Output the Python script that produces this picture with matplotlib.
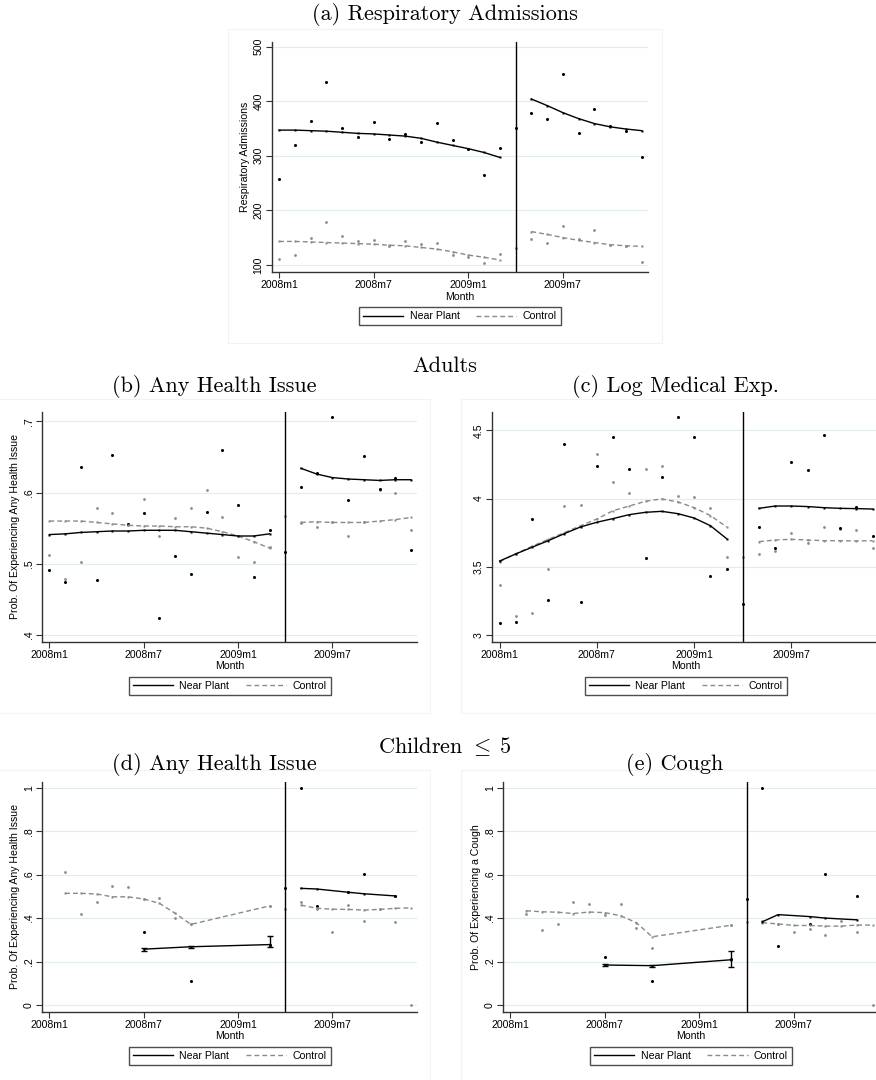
import numpy as np
import matplotlib.pyplot as plt
from matplotlib.lines import Line2D

plt.rcParams['mathtext.fontset'] = 'cm'

nan = np.nan

# month index 0 = 2008m1 ... 23 = 2009m12
months = list(range(24))
month_ticks = [0, 6, 12, 18]
month_labels = ['2008m1', '2008m7', '2009m1', '2009m7']
cutoff = 15  # 2009m4
pre_months = list(range(0, 15))
post_months = list(range(16, 24))

# (a) Respiratory Admissions
a_near = [257, 319, 363, 436, 351, 334, 362, 330, 340, 325, 360, 329,
          313, 264, 315, 351, 379, 367, 450, 342, 385, 354, 345, 298]
a_ctrl = [110, 119, 149, 178, 153, 143, 145, 134, 144, 139, 141, 118,
          115, 104, 120, 131, 147, 140, 172, 148, 164, 137, 135, 105]
a_near_fit_pre = [347, 347, 346, 345, 343, 341, 340, 338, 336, 332, 325, 319, 313, 306, 297]
a_near_fit_post = [404, 392, 379, 368, 359, 353, 349, 346]
a_ctrl_fit_pre = [143, 143, 142, 141, 140, 139, 138, 136, 135, 132, 129, 124, 118, 114, 109]
a_ctrl_fit_post = [161, 156, 150, 145, 141, 137, 135, 134]

# (b) Adults, any health issue
b_near = [0.491, 0.474, 0.636, 0.477, 0.653, 0.556, 0.571, 0.424, 0.511, 0.485, 0.573, 0.660,
          0.583, 0.482, 0.548, 0.517, 0.608, 0.628, 0.706, 0.590, 0.651, 0.605, 0.621, 0.520]
b_ctrl = [0.512, 0.479, 0.502, 0.579, 0.571, 0.554, 0.591, 0.539, 0.564, 0.578, 0.604, 0.566,
          0.510, 0.502, 0.523, 0.567, 0.557, 0.552, 0.558, 0.539, 0.558, 0.603, 0.600, 0.548]
b_near_fit_pre = [0.541, 0.542, 0.544, 0.545, 0.546, 0.546, 0.547, 0.547, 0.547, 0.545,
                  0.543, 0.541, 0.539, 0.539, 0.542]
b_near_fit_post = [0.634, 0.626, 0.621, 0.619, 0.618, 0.617, 0.618, 0.618]
b_ctrl_fit_pre = [0.560, 0.560, 0.560, 0.558, 0.556, 0.554, 0.553, 0.553, 0.552, 0.552,
                  0.550, 0.545, 0.539, 0.531, 0.522]
b_ctrl_fit_post = [0.558, 0.559, 0.558, 0.558, 0.558, 0.560, 0.562, 0.565]

# (c) Adults, log medical expenditure
c_near = [3.088, 3.098, 3.848, 3.259, 4.397, 3.239, 4.239, 4.454, 4.217, 3.562, 4.160, 4.595,
          4.449, 3.430, 3.481, 3.227, 3.794, 3.640, 4.265, 4.212, 4.463, 3.784, 3.936, 3.723]
c_ctrl = [3.366, 3.137, 3.159, 3.484, 3.943, 3.955, 4.324, 4.124, 4.038, 4.217, 4.236, 4.019,
          4.011, 3.928, 3.569, 3.574, 3.596, 3.616, 3.750, 3.677, 3.789, 3.774, 3.770, 3.635]
c_near_fit_pre = [3.542, 3.594, 3.643, 3.691, 3.743, 3.792, 3.826, 3.853, 3.882, 3.899,
                  3.906, 3.889, 3.857, 3.801, 3.706]
c_near_fit_post = [3.928, 3.945, 3.945, 3.941, 3.933, 3.928, 3.926, 3.923]
c_ctrl_fit_pre = [3.537, 3.596, 3.650, 3.701, 3.750, 3.801, 3.850, 3.911, 3.945, 3.980,
                  3.997, 3.975, 3.933, 3.875, 3.792]
c_ctrl_fit_post = [3.684, 3.696, 3.701, 3.696, 3.691, 3.691, 3.689, 3.691]

# (d) Children <= 5, any health issue
d_near = [nan, nan, nan, nan, nan, nan, 0.334, nan, nan, 0.112, nan, nan,
          nan, nan, 0.278, 0.537, 1.0, 0.456, nan, 0.519, 0.601, nan, 0.502, nan]
d_ctrl = [nan, 0.613, 0.419, 0.472, 0.549, 0.541, 0.488, 0.494, 0.399, 0.371, nan, nan,
          nan, nan, 0.456, 0.442, 0.475, 0.442, 0.334, 0.460, 0.388, 0.440, 0.380, 0.0]
d_near_pre_m = [6, 9, 14]
d_near_fit_pre = [0.257, 0.268, 0.278]
d_near_lo = [0.249, 0.262, 0.266]
d_near_hi = [0.262, 0.272, 0.318]
d_near_post_m = [16, 17, 19, 20, 22]
d_near_fit_post = [0.537, 0.534, 0.519, 0.512, 0.502]
d_ctrl_pre_m = [1, 2, 3, 4, 5, 6, 7, 8, 9, 14]
d_ctrl_fit_pre = [0.514, 0.514, 0.511, 0.498, 0.498, 0.488, 0.468, 0.422, 0.371, 0.456]
d_ctrl_fit_post = [0.460, 0.445, 0.441, 0.440, 0.437, 0.440, 0.445, 0.447]

# (e) Children <= 5, cough
e_near = [nan, nan, nan, nan, nan, nan, 0.222, nan, nan, 0.112, nan, nan,
          nan, nan, 0.213, 0.488, 1.0, 0.273, nan, 0.373, 0.601, nan, 0.502, nan]
e_ctrl = [nan, 0.420, 0.345, 0.374, 0.473, 0.463, 0.416, 0.465, 0.353, 0.264, nan, nan,
          nan, nan, 0.367, 0.383, 0.388, 0.373, 0.334, 0.348, 0.322, 0.388, 0.334, 0.0]
e_near_pre_m = [6, 9, 14]
e_near_fit_pre = [0.184, 0.181, 0.208]
e_near_lo = [0.180, 0.177, 0.173]
e_near_hi = [0.188, 0.185, 0.250]
e_near_post_m = [16, 17, 19, 20, 22]
e_near_fit_post = [0.383, 0.416, 0.407, 0.400, 0.392]
e_ctrl_pre_m = [1, 2, 3, 4, 5, 6, 7, 8, 9, 14]
e_ctrl_fit_pre = [0.434, 0.429, 0.427, 0.421, 0.428, 0.425, 0.411, 0.379, 0.314, 0.367]
e_ctrl_fit_post = [0.379, 0.373, 0.366, 0.366, 0.363, 0.363, 0.368, 0.368]

W, H = 876, 1080
GRAY = '#8a8a8a'
GRID = '#e3ecee'
DASH = (0, (3.5, 2.2))
TXT = 7.6

fig = plt.figure(figsize=(W / 100, H / 100), dpi=100)


def add_axes_px(left, top, right, bottom):
    return fig.add_axes([left / W, 1 - bottom / H, (right - left) / W, (bottom - top) / H])


def frame_px(left, top, right, bottom):
    xs = [left / W, right / W, right / W, left / W, left / W]
    ys = [1 - top / H, 1 - top / H, 1 - bottom / H, 1 - bottom / H, 1 - top / H]
    fig.add_artist(Line2D(xs, ys, color='#f3f3f3', lw=0.8))


def title_px(x, y, s, size=16):
    fig.text(x / W, 1 - y / H, s, family='cmr10', fontsize=size, ha='center', va='center')


def draw_panel(ax, near, ctrl, nfit, cfit, yticks, ylabels, ylim, ylabel, ci=None):
    ax.set_xlim(-0.45, 23.4)
    ax.set_ylim(*ylim)
    ax.set_yticks(yticks)
    ax.set_yticklabels(ylabels, rotation=90, va='center', family='Liberation Sans', fontsize=TXT)
    ax.set_xticks(month_ticks)
    ax.set_xticklabels(month_labels, family='Liberation Sans', fontsize=TXT)
    ax.grid(axis='y', color=GRID, lw=0.8)
    ax.set_axisbelow(True)
    for s in ['top', 'right']:
        ax.spines[s].set_visible(False)
    for s in ['left', 'bottom']:
        ax.spines[s].set_color('#333333')
        ax.spines[s].set_linewidth(1.0)
    ax.tick_params(direction='out', length=4, width=0.8, color='#333333', pad=2)
    ax.set_xlabel('Month', family='Liberation Sans', fontsize=TXT, labelpad=1)
    ax.set_ylabel(ylabel, family='Liberation Sans', fontsize=TXT, labelpad=3)

    ax.plot(months, ctrl, 'o', color=GRAY, ms=2.0, mec='none')
    ax.plot(months, near, 'o', color='black', ms=2.2, mec='none')
    for xm, yv in cfit:
        ax.plot(xm, yv, color=GRAY, lw=1.0, ls=DASH, marker='s', ms=1.6, mec='none')
    for xm, yv in nfit:
        ax.plot(xm, yv, color='black', lw=1.0, marker='s', ms=1.6, mec='none')
    if ci is not None:
        xm, fit, lo, hi = ci
        ax.errorbar(xm, fit, yerr=[np.subtract(fit, lo), np.subtract(hi, fit)],
                    fmt='none', ecolor='black', elinewidth=1.0, capsize=2.5, capthick=1.0)
    ax.axvline(cutoff, color='black', lw=1.0)

    handles = [Line2D([], [], color='black', lw=1.0),
               Line2D([], [], color=GRAY, lw=1.0, ls=DASH)]
    h_px = ax.get_position().height * H
    leg = ax.legend(handles, ['Near Plant', 'Control'], ncol=2, loc='upper center',
                    bbox_to_anchor=(0.5, -35 / h_px), borderaxespad=0, frameon=True,
                    fancybox=False, prop={'family': 'Liberation Sans', 'size': TXT},
                    handlelength=3.8, handletextpad=0.6, columnspacing=1.6, borderpad=0.4)
    leg.get_frame().set_edgecolor('#222222')
    leg.get_frame().set_linewidth(1.0)


# graph region borders
frame_px(228, 29, 662, 343)
frame_px(-2, 399, 430, 713)
frame_px(461, 399, 890, 713)
frame_px(-2, 770, 430, 1090)
frame_px(461, 770, 890, 1090)

title_px(445, 15, '(a) Respiratory Admissions')
title_px(445, 366, 'Adults')
title_px(214, 386, '(b) Any Health Issue')
title_px(675, 386, '(c) Log Medical Exp.')
title_px(445, 746, r'Children $\leq\;5$')
title_px(214, 765, '(d) Any Health Issue')
title_px(675, 765, '(e) Cough')

ax_a = add_axes_px(272, 41.7, 648, 272)
draw_panel(ax_a, a_near, a_ctrl,
           [(pre_months, a_near_fit_pre), (post_months, a_near_fit_post)],
           [(pre_months, a_ctrl_fit_pre), (post_months, a_ctrl_fit_post)],
           [100, 200, 300, 400, 500], ['100', '200', '300', '400', '500'],
           (87, 509), 'Respiratory Admissions')

ax_b = add_axes_px(42.3, 411.7, 417.3, 641.7)
draw_panel(ax_b, b_near, b_ctrl,
           [(pre_months, b_near_fit_pre), (post_months, b_near_fit_post)],
           [(pre_months, b_ctrl_fit_pre), (post_months, b_ctrl_fit_post)],
           [0.4, 0.5, 0.6, 0.7], ['.4', '.5', '.6', '.7'],
           (0.3906, 0.7135), 'Prob. Of Experiencing Any Health Issue')

ax_c = add_axes_px(492.3, 411.7, 879, 641.7)
draw_panel(ax_c, c_near, c_ctrl,
           [(pre_months, c_near_fit_pre), (post_months, c_near_fit_post)],
           [(pre_months, c_ctrl_fit_pre), (post_months, c_ctrl_fit_post)],
           [3, 3.5, 4, 4.5], ['3', '3.5', '4', '4.5'],
           (2.951, 4.636), '')

ax_d = add_axes_px(42.3, 781.7, 417.3, 1011.7)
draw_panel(ax_d, d_near, d_ctrl,
           [(d_near_pre_m, d_near_fit_pre), (d_near_post_m, d_near_fit_post)],
           [(d_ctrl_pre_m, d_ctrl_fit_pre), (post_months, d_ctrl_fit_post)],
           [0, 0.2, 0.4, 0.6, 0.8, 1], ['0', '.2', '.4', '.6', '.8', '1'],
           (-0.031, 1.028), 'Prob. Of Experiencing Any Health Issue',
           ci=(d_near_pre_m, d_near_fit_pre, d_near_lo, d_near_hi))

ax_e = add_axes_px(503.3, 781.7, 878.9, 1011.7)
draw_panel(ax_e, e_near, e_ctrl,
           [(e_near_pre_m, e_near_fit_pre), (e_near_post_m, e_near_fit_post)],
           [(e_ctrl_pre_m, e_ctrl_fit_pre), (post_months, e_ctrl_fit_post)],
           [0, 0.2, 0.4, 0.6, 0.8, 1], ['0', '.2', '.4', '.6', '.8', '1'],
           (-0.031, 1.028), 'Prob. Of Experiencing a Cough',
           ci=(e_near_pre_m, e_near_fit_pre, e_near_lo, e_near_hi))

fig.savefig('out.png', dpi=100)
